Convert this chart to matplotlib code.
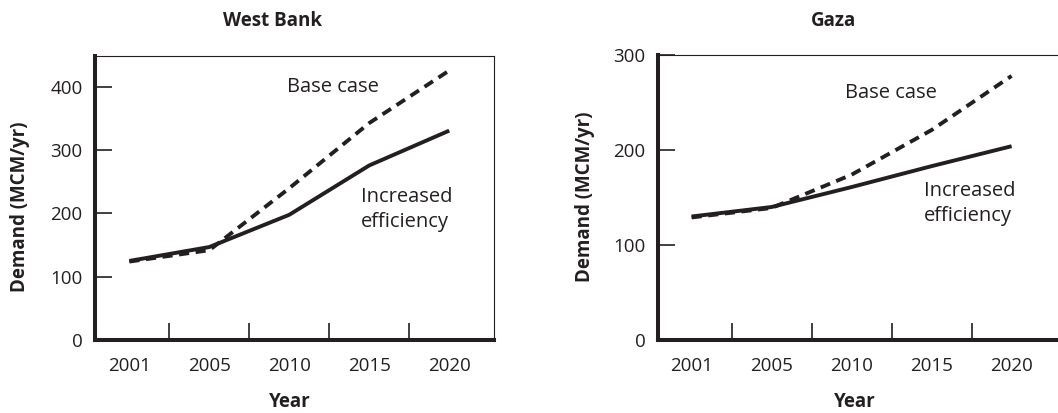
import matplotlib
matplotlib.use("Agg")
import matplotlib.pyplot as plt

plt.rcParams['font.family'] = ['Open Sans', 'DejaVu Sans']

INK = "#231f20"

years = ["2001", "2005", "2010", "2015", "2020"]

# West Bank demand (MCM/yr)
wb_base = [124, 142, 240, 343, 426]
wb_eff = [125, 147, 198, 276, 331]

# Gaza demand (MCM/yr)
gz_base = [129, 139, 174, 221, 278]
gz_eff = [130, 140, 161, 183, 204]

TICK_FS = 13.5
NOTE_FS = 14.5
BOLD_FS = 13.5

fig = plt.figure(figsize=(10.58, 4.13), dpi=100)

def panel(rect, base, eff, ymax, yticks, xlim, title, title_x,
          base_xy, eff_xy, ylab_xy, xlab_x, right_spine=True):
    ax = fig.add_axes(rect)
    x = range(len(years))
    ax.plot(x, eff, color=INK, lw=2.8, solid_capstyle="butt")
    ax.plot(x, base, color=INK, lw=2.8, dashes=(2.6, 1.7))
    ax.set_xlim(*xlim)
    ax.set_ylim(0, ymax)
    ax.set_yticks(yticks)
    ax.set_xticks(list(x))
    ax.set_xticklabels(years)
    ax.set_xticks([i + 0.5 for i in range(len(years) - 1)], minor=True)
    ax.tick_params(axis="x", which="major", length=0, pad=12,
                   labelsize=TICK_FS, colors=INK)
    ax.tick_params(axis="x", which="minor", direction="in", length=12,
                   width=1.2, color=INK)
    ax.tick_params(axis="y", direction="in", length=12, width=1.2,
                   pad=9, labelsize=TICK_FS, colors=INK)
    for s in ["left", "bottom"]:
        ax.spines[s].set_linewidth(2.9)
        ax.spines[s].set_color(INK)
    for s in ["top", "right"]:
        ax.spines[s].set_linewidth(0.8)
        ax.spines[s].set_color(INK)
    ax.spines["right"].set_visible(right_spine)

    ax.text(*base_xy, "Base case", transform=ax.transData, ha="center",
            va="center", fontsize=NOTE_FS, color=INK)
    ax.text(*eff_xy, "Increased\nefficiency", transform=ax.transData,
            ha="left", va="center", fontsize=NOTE_FS, color=INK,
            linespacing=1.35)
    fig.text(title_x, 1 - 21 / 413, title, ha="center", va="center",
             fontsize=BOLD_FS, fontweight="bold", color=INK)
    fig.text(ylab_xy[0], ylab_xy[1], "Demand (MCM/yr)",
             rotation=90, ha="center", va="center", fontsize=BOLD_FS,
             fontweight="bold", color=INK)
    fig.text(xlab_x, 1 - 402 / 413, "Year", ha="center", va="center",
             fontsize=BOLD_FS, fontweight="bold", color=INK)
    return ax

panel([95 / 1058, 73 / 413, 399 / 1058, 284 / 413], wb_base, wb_eff, 449,
      [0, 100, 200, 300, 400], (-0.43, 4.56), "West Bank", 273 / 1058,
      (2.54, 400), (2.9, 206), (20 / 1058, 1 - 207 / 413), 290 / 1058)

panel([658 / 1058, 73 / 413, 402 / 1058, 285 / 413], gz_base, gz_eff, 300,
      [0, 100, 200, 300], (-0.42, 4.605), "Gaza", 833 / 1058,
      (2.49, 260), (2.9, 144), (585 / 1058, 1 - 197 / 413), 855 / 1058,
      right_spine=False)

fig.savefig("out.png", dpi=100)
